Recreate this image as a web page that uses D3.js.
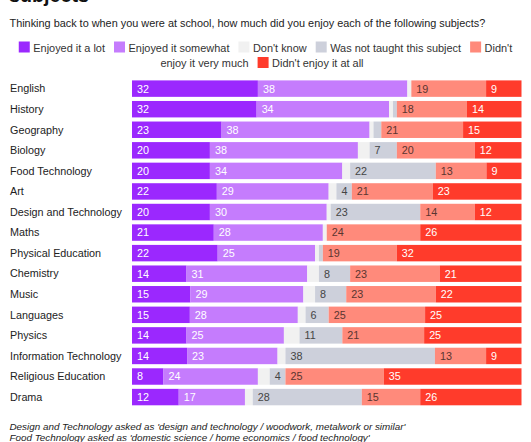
<!DOCTYPE html>
<html>
<head>
<meta charset="utf-8">
<script src="https://cdn.jsdelivr.net/npm/d3@7"></script>
<style>
  html, body { margin: 0; padding: 0; background: #fff; }
  svg { display: block; font-family: "Liberation Sans", Arial, sans-serif; }
</style>
</head>
<body>
<svg id="chart" width="531" height="442"></svg>
<script>
const subjects = ["English","History","Geography","Biology","Food Technology","Art","Design and Technology","Maths","Physical Education","Chemistry","Music","Languages","Physics","Information Technology","Religious Education","Drama"];
const enjoyedLot      = [32,32,23,20,20,22,20,21,22,14,15,15,14,14, 8,12];
const enjoyedSomewhat = [38,34,38,38,34,29,30,28,25,31,29,28,25,23,24,17];
const dontKnow        = [ 1, 1, 1, 3, 2, 2, 1, 1, 1, 3, 3, 2, 4, 2, 3, 2];
const notTaught       = [ 0, 1, 2, 7,22, 4,23, 0, 1, 8, 8, 6,11,38, 4,28];
const notVeryMuch     = [19,18,21,20,13,21,14,24,19,23,23,25,21,13,25,15];
const notAtAll        = [ 9,14,15,12, 9,23,12,26,32,21,22,25,25, 9,35,26];

const seriesKeys   = ["lot","somewhat","dk","nt","notMuch","notAll"];
const seriesLabels = ["Enjoyed it a lot","Enjoyed it somewhat","Don't know","Was not taught this subject","Didn't enjoy it very much","Didn't enjoy it at all"];
const seriesColors = ["#9b28fe","#c57cfd","#f1f1f1","#cdd0db","#ff8a7b","#ff3b2b"];
const labelColors  = ["#ffffff","#ffffff","#555555","#444444","#5a3530","#ffffff"];

const title = "subjects";
const subtitle = "Thinking back to when you were at school, how much did you enjoy each of the following subjects?";
const notes = ["Design and Technology asked as 'design and technology / woodwork, metalwork or similar'",
               "Food Technology asked as 'domestic science / home economics / food technology'"];

const rows = subjects.map((s, i) => ({
  subject: s, lot: enjoyedLot[i], somewhat: enjoyedSomewhat[i], dk: dontKnow[i],
  nt: notTaught[i], notMuch: notVeryMuch[i], notAll: notAtAll[i]
}));

const svg = d3.select("#chart");
svg.append("rect").attr("width", 531).attr("height", 442).attr("fill", "#fff");

function fit(text, target, weight, style) {
  const t = svg.append("text").attr("font-size", 100)
    .attr("font-weight", weight || 400).attr("font-style", style || "normal").text(text);
  const w = t.node().getComputedTextLength();
  t.remove();
  return 100 * target / w;
}
const fsTitle = fit(title, 80, 700);
const fsSub = fit(subtitle, 476);
const fsLabel = fit("Design and Technology", 112);
const fsLegend = fit("Was not taught this subject", 131);
const fsNote = fit(notes[0], 396, 400, "italic");
const fsValue = fsLabel * 1.0;

svg.append("text").attr("x", 9).attr("y", 2)
  .attr("font-size", fsTitle).attr("font-weight", 700).attr("fill", "#111").text(title);

svg.append("text").attr("x", 9.5).attr("y", 27)
  .attr("font-size", fsSub).attr("fill", "#222").text(subtitle);

// Legend
const color = d3.scaleOrdinal().domain(seriesKeys).range(seriesColors);
const legend = svg.append("g").attr("font-size", fsLegend).attr("fill", "#333");
function measure(t) {
  const n = legend.append("text").text(t);
  const w = n.node().getComputedTextLength();
  n.remove();
  return w;
}
const sw = 11, swGap = 3.5, itemGap = 9;
const row1 = [0,1,2,3].map(i => ({sw: i, text: seriesLabels[i]}));
row1.push({sw: 4, text: "Didn't"});
const row2 = [{sw: null, text: "enjoy it very much"}, {sw: 5, text: seriesLabels[5]}];
function drawRow(items, baseline, cx) {
  const widths = items.map(it => (it.sw !== null ? sw + swGap : 0) + measure(it.text));
  const total = d3.sum(widths) + itemGap * (items.length - 1);
  let x = cx - total / 2;
  items.forEach(it => {
    if (it.sw !== null) {
      legend.append("rect").attr("x", x).attr("y", baseline - 10).attr("width", sw).attr("height", sw)
        .attr("fill", seriesColors[it.sw]);
      x += sw + swGap;
    }
    legend.append("text").attr("x", x).attr("y", baseline).text(it.text);
    x += measure(it.text) + itemGap;
  });
}
drawRow(row1, 51.5, 265.5);
drawRow(row2, 67, 262);

// Bars
const stack = d3.stack().keys(seriesKeys).offset(d3.stackOffsetExpand);
const stacked = stack(rows);

const x = d3.scaleLinear().domain([0, 1]).range([132, 521.5]);
const y = d3.scaleBand().domain(subjects).range([80.4, 405.3]).paddingInner(0.2).paddingOuter(0);

svg.append("g").selectAll("text").data(subjects).join("text")
  .attr("x", 10).attr("y", d => y(d) + y.bandwidth() / 2)
  .attr("dy", "0.35em").attr("font-size", fsLabel).attr("fill", "#222").text(d => d);

const layers = svg.append("g").selectAll("g").data(stacked).join("g")
  .attr("fill", d => color(d.key));
layers.selectAll("rect").data(d => d).join("rect")
  .attr("x", d => x(d[0])).attr("y", d => y(d.data.subject))
  .attr("width", d => Math.max(0, x(d[1]) - x(d[0]))).attr("height", y.bandwidth());

const labels = svg.append("g").attr("font-size", fsValue);
stacked.forEach((layer, li) => {
  if (layer.key === "dk") return;
  labels.selectAll(null).data(layer.filter(d => d.data[layer.key] >= 4)).join("text")
    .attr("x", d => x(d[0]) + 5)
    .attr("y", d => y(d.data.subject) + y.bandwidth() / 2)
    .attr("dy", "0.36em")
    .attr("fill", labelColors[li])
    .text(d => d.data[layer.key]);
});

// Notes
svg.append("g").selectAll("text").data(notes).join("text")
  .attr("x", 9.5).attr("y", (d, i) => 429.5 + i * 11)
  .attr("font-size", fsNote).attr("font-style", "italic").attr("fill", "#222").text(d => d);
</script>
</body>
</html>
